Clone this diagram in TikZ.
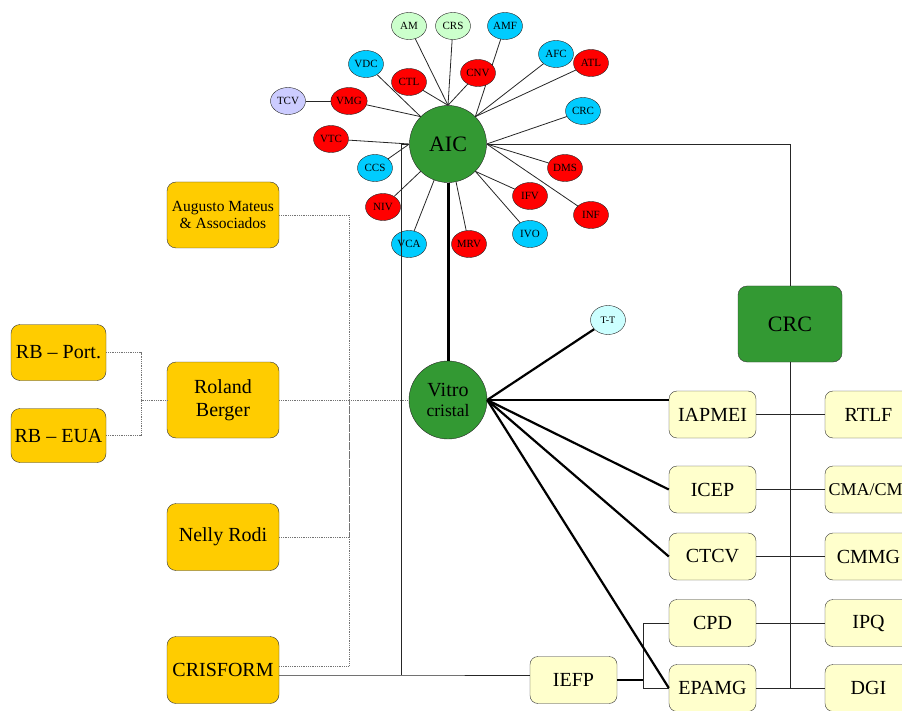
\documentclass[tikz,border=0pt]{standalone}
\usepackage{fontspec}
\setmainfont{Liberation Serif}
\usepackage{xcolor}
\usepackage{tikz}
\usetikzlibrary{shapes.geometric}
\definecolor{satred}{HTML}{FF0000}
\definecolor{satcyan}{HTML}{00CCFF}
\definecolor{satgreen}{HTML}{CCFFCC}
\definecolor{satlav}{HTML}{CCCCFF}
\definecolor{ttcyan}{HTML}{CCFFFF}
\definecolor{hubgreen}{HTML}{339933}
\definecolor{gold}{HTML}{FFCC00}
\definecolor{pale}{HTML}{FFFFCC}
\newcommand{\fs}[1]{\fontsize{#1}{1.15\dimexpr#1pt\relax}\selectfont}
\tikzset{
  hub/.style={circle, draw=black!85, fill=hubgreen, minimum size=77pt, inner sep=0pt, align=center},
  sat/.style={ellipse, draw=black!85, minimum width=35pt, minimum height=27pt, inner sep=0pt, font=\fs{11}},
  goldbox/.style={draw=black!80, fill=gold, rounded corners=9pt, minimum width=112pt, inner sep=0pt, align=center, font=\fs{20}},
  palebox/.style={draw=black!80, fill=pale, rounded corners=8pt, minimum width=87pt, minimum height=47pt, inner sep=0pt, font=\fs{20}},
  link/.style={line width=0.8pt, black!85},
  heavy/.style={line width=2.2pt},
  dots/.style={densely dotted, line width=0.8pt, black!55}
}

\begin{document}
\begin{tikzpicture}[x=1pt, y=-1pt]
  \useasboundingbox (0,0) rectangle (902,711);
  \clip (0,0) rectangle (902,711);

  \node[hub, font=\fs{22}] (aic) at (448,144) {AIC};
  \node[hub, minimum size=78pt, font=\fs{20}] (vitro) at (448,400) {Vitro\\[-3pt]{\fs{17.5}cristal}};
  \draw[line width=3pt] (aic.south) -- (vitro.north);

  % satellites round AIC
  \foreach \nm/\x/\y/\col/\ang in {
      AM/409/26/satgreen/90, CRS/453/26/satgreen/90, AMF/505/26/satcyan/45,
      AFC/556/54/satcyan/45, ATL/591/63/satred/45, VDC/366/64/satcyan/135,
      CTL/409/82/satred/90, CNV/478/73/satred/90, VMG/349/101/satred/135,
      CRC/583/111/satcyan/0, VTC/331/139/satred/180, CCS/375/168/satcyan/180,
      DMS/565/168/satred/0, NIV/383/207/satred/-135, IFV/530/196/satred/-45,
      INF/591/215/satred/0, VCA/409/244/satcyan/-111, MRV/469/244/satred/-78,
      IVO/530/234/satcyan/-45} {
    \node[sat, fill=\col] (s\nm) at (\x,\y) {\nm};
    \draw[link] (aic.\ang) -- (s\nm);
  }
  \node[sat, fill=satlav] (sTCV) at (288,101) {TCV};
  \draw[link] (sTCV) -- (sVMG);

  % consultants
  \begin{scope}
    \node[goldbox, minimum height=66pt, font=\fs{15.5}] (augusto) at (223,215) {Augusto Mateus\\[-1pt]\& Associados};
    \node[goldbox, minimum height=76pt] (roland) at (223,400) {Roland\\Berger};
    \node[goldbox, minimum height=67pt] (nelly) at (223,537) {Nelly Rodi};
    \node[goldbox, minimum height=67pt] (crisform) at (223,670) {CRISFORM};
    \node[goldbox, minimum width=95pt, minimum height=56pt] (rbport) at (58.5,352.5) {RB -- Port.};
    \node[goldbox, minimum width=95pt, minimum height=54pt] (rbeua) at (58.5,435.5) {RB -- EUA};
    \coordinate (tap) at (349,400);
    \coordinate (rbfork) at (141,400);
    \coordinate (drop) at (401,675);
  \end{scope}
  \draw[dots] (augusto.east) -| (tap);
  \draw[dots] (nelly.east) -| (tap);
  \draw[dots] ([yshift=4pt]crisform.east) -| (tap);
  \draw[dots] (roland.east) -- (vitro.west);
  \draw[dots] (rbport.east) -| (rbfork) -- (roland.west);
  \draw[dots] (rbeua.east) -| (rbfork);

  % institutions
  \node[draw=black!80, fill=hubgreen, rounded corners=9pt, minimum width=104pt, minimum height=76pt, font=\fs{22}] (crcbox) at (790,324) {CRC};
  \node[sat, fill=ttcyan, minimum height=29pt, font=\fs{10}] (tt) at (608,320) {T-T};
  \foreach \nm/\txt/\y in {iapmei/IAPMEI/414.5, icep/ICEP/489.5, ctcv/CTCV/556.5, cpd/CPD/623, epamg/EPAMG/688}
    \node[palebox] (\nm) at (712.5,\y) {\txt};
  \foreach \nm/\txt/\y in {rtlf/RTLF/414.5, cma/{\fs{18}CMA/CMI}/489.5, cmmg/CMMG/556.5, ipq/IPQ/623, dgi/DGI/688}
    \node[palebox] (\nm) at (868.5,\y) {\txt};
  \node[palebox] (iefp) at (573.5,680) {IEFP};

  \draw[link] (aic.east) -| (crcbox.north);
  \draw[link] (crcbox.south) -- (crcbox.south |- dgi.west);
  \draw[link] (iapmei) -- (rtlf);
  \draw[link] (icep) -- (cma);
  \draw[link] (ctcv) -- (cmmg);
  \draw[link] (cpd) -- (ipq);
  \draw[link] (epamg) -- (dgi);

  \draw[link] (aic.west) -| (drop);
  \draw[link] ([yshift=-5pt]crisform.east) -- (drop) -- (drop -| iefp.west);
  \draw[line width=1.8pt] (iefp.east) -- ++(26,0) coordinate (fork);
  \draw[link] (cpd.west) -| (fork) |- (epamg.west);

  \draw[heavy] (vitro.east) -- (tt);
  \draw[heavy] (vitro.east) -- (vitro.east -| iapmei.west);
  \draw[heavy] (vitro.east) -- (icep.west);
  \draw[heavy] (vitro.east) -- (ctcv.west);
  \draw[heavy] (vitro.east) -- (epamg.west);
\end{tikzpicture}
\end{document}
